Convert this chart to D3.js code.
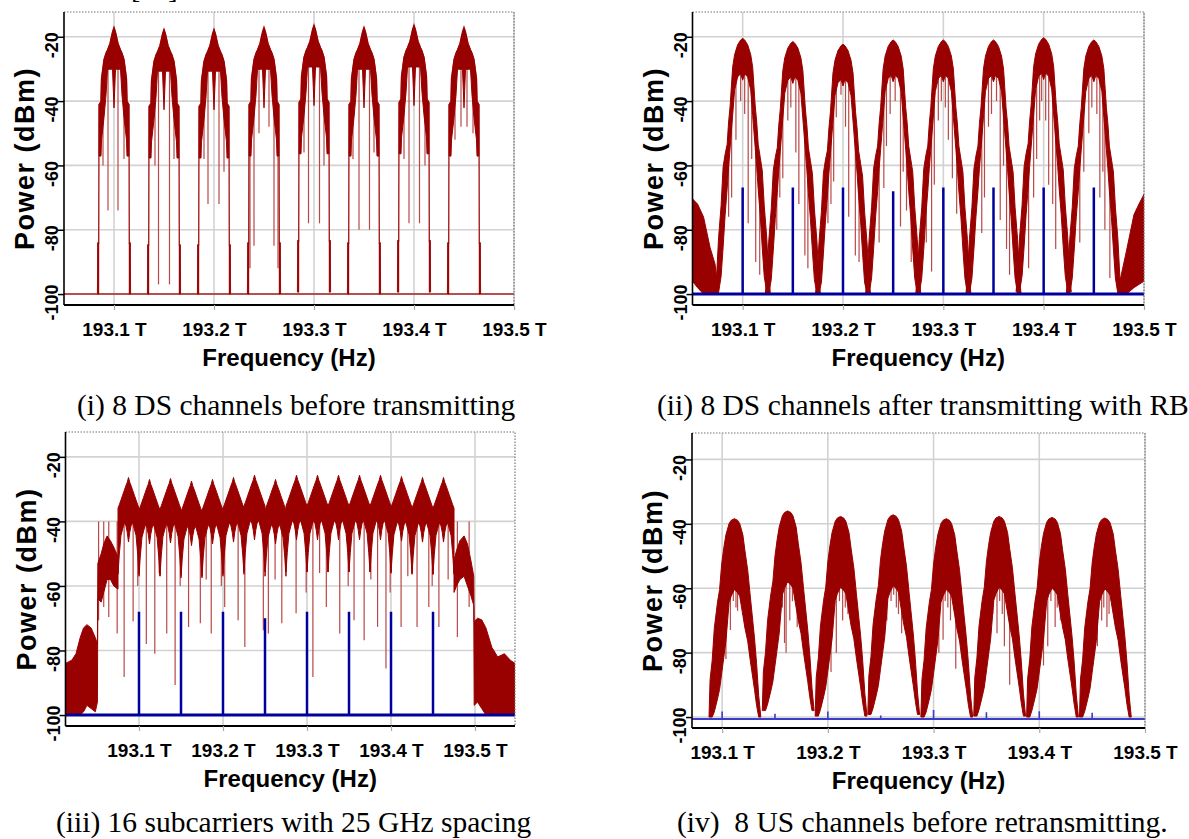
<!DOCTYPE html>
<html>
<head>
<meta charset="utf-8">
<script src="https://cdn.jsdelivr.net/npm/d3@7"></script>
<style>
  html, body { margin: 0; padding: 0; background: #fff; }
  svg { display: block; }
</style>
</head>
<body>
<svg id="fig" width="1189" height="839"></svg>
<script>
// ---------- values ----------
const xTicks = [193.1, 193.2, 193.3, 193.4, 193.5];
const xTickLabels = ["193.1 T", "193.2 T", "193.3 T", "193.4 T", "193.5 T"];
const yTicks = [-20, -40, -60, -80, -100];
const yTickLabels = ["-20", "-40", "-60", "-80", "-100"];

const captions = [
  "(i) 8 DS channels before transmitting",
  "(ii) 8 DS channels after transmitting with RB",
  "(iii) 16 subcarriers with 25 GHz spacing",
  "(iv)  8 US channels before retransmitting."
];

// DS channel grid (THz), also where the blue carriers sit
const dsCenters = [193.10, 193.15, 193.20, 193.25, 193.30, 193.35, 193.40, 193.45];

// (i) before transmitting: peaks (dBm)
const dsPeaksBefore = [-17.1, -17.7, -17.7, -17.1, -16.4, -17.1, -16.4, -17.1];
// shape: [offset GHz, top dB rel. peak, bottom of solid part dB rel. peak (null = thin edge)]
const dsShapeBefore = [
  [-16.4, -83, null], [-16.1, -67, -83], [-15.3, -67, -83], [-15.1, -40, null],
  [-14.9, -24, -40], [-13.0, -23, -40], [-12.5, -16, -35], [-10.0, -10, -28],
  [-8.0, -8, -21], [-6.5, -7, -13], [-4.0, -5, -13], [-1.5, -1.5, -13],
  [0, 0, -25],
  [1.5, -1.5, -13], [4.0, -5, -13], [6.5, -7, -13], [8.0, -8, -21],
  [10.0, -10, -28], [12.5, -16, -35], [13.0, -23, -40], [14.9, -24, -40],
  [15.1, -40, null], [15.3, -67, -83], [16.1, -67, -83], [16.4, -83, null]
];
// thin dips: [channel, offset GHz, depth dBm]
const dsDipsBefore = [
  [0, -6, -74], [0, 4, -74], [0, -11, -60], [0, 10, -58],
  [1, -5.5, -97], [1, 5.5, -97], [1, -9, -60], [1, 10, -58],
  [2, -6, -72], [2, 5, -72], [2, -10, -58], [2, 10, -62],
  [3, -14, -92], [3, 14, -92], [3, -10, -85], [3, 10, -85], [3, -5, -50], [3, 5, -48],
  [4, -5.5, -78], [4, 5.5, -78], [4, -10, -56], [4, 10, -60],
  [5, -5, -80], [5, 5.5, -80], [5, -11, -58], [5, 10, -56],
  [6, -5, -78], [6, 5.5, -78], [6, -10, -58], [6, 11, -60],
  [7, -3, -48], [7, 3, -48], [7, -9, -52], [7, 9, -50]
];

// (ii) after transmitting with RB
const dsPeaksAfter = [-20.5, -21.5, -22.3, -21, -21, -21, -20.3, -21];
const dsShapeAfter = [
  [-27.5, -79, -79], [-26, -74, -79], [-24, -62, -79], [-21.5, -52, -74],
  [-19.5, -40, -65], [-17.5, -36, -55], [-15.5, -33, -47], [-14, -26, -40],
  [-12.5, -21, -34], [-10, -9, -24], [-8, -5, -16], [-5, -2, -12], [-2, -0.5, -11],
  [0, 0, -13],
  [2, -0.5, -11], [5, -2, -12], [8, -5, -16], [10, -9, -24], [12.5, -21, -34],
  [14, -26, -40], [15.5, -33, -47], [17.5, -37, -55], [19.5, -41, -65],
  [21.5, -52, -74], [24, -62, -79], [26, -74, -79], [27.5, -79, -79]
];
const dsDipsAfter = [
  [0, -11, -70], [0, -6.7, -52], [0, 5.5, -78], [0, 9, -58], [0, 13, -90],
  [0, -2, -40], [0, 2, -44], [0, -14, -76], [0, 17, -94],
  [1, -10, -64], [1, -5, -46], [1, 6, -72], [1, 12, -88], [1, -16, -80],
  [1, -2, -42], [1, 3, -56], [1, 15, -92], [1, -13, -70],
  [2, -9.3, -65], [2, -6.7, -45], [2, 5.7, -76], [2, 12.3, -88], [2, -15, -78],
  [2, -2, -38], [2, 2.5, -48], [2, 16, -90], [2, -12, -72],
  [3, -9.3, -67], [3, -6.7, -54], [3, 7.3, -79], [3, 13.3, -74], [3, 18, -90],
  [3, -3, -44], [3, 2, -40], [3, -14, -84], [3, 10, -62],
  [4, -11.7, -93], [4, -5, -46], [4, 5, -52], [4, 13.3, -75], [4, -17, -84],
  [4, -2, -40], [4, 2, -42], [4, 9, -64], [4, -9, -66],
  [5, -11.7, -81], [5, -5, -48], [5, 6.7, -77], [5, 10, -60], [5, 16, -94],
  [5, -2, -44], [5, 3, -40], [5, -9, -70], [5, 13, -86],
  [6, -10, -70], [6, -4, -46], [6, 5, -66], [6, 12, -86], [6, -15, -92],
  [6, -2, -40], [6, 2, -46], [6, -7, -58], [6, 9, -72],
  [7, -10, -62], [7, -5, -50], [7, 6, -70], [7, 11, -80], [7, 16, -95],
  [7, -2, -42], [7, 3, -44], [7, -14, -84], [7, 9, -62]
];
// neighbour tails cut by the plot edges: [THz, top, bottom]
const rbTailLeft = [[193.05, -70.4, -96], [193.055, -72, -98], [193.061, -76, -100],
  [193.0675, -85.5, -100], [193.0725, -90.7, -100], [193.0758, -100, -100]];
const rbTailRight = [[193.474, -100, -100], [193.476, -96, -100], [193.4825, -86.6, -100],
  [193.49, -75.3, -98], [193.495, -72, -97], [193.5, -69, -96]];
const carrierLevelsAfter = [-66.9, -66.9, -66.9, -68, -66.9, -66.9, -66.9, -66.9];

// (iii) 16 subcarriers, 25 GHz spacing
const subCenters = [193.0875, 193.1125, 193.1375, 193.1625, 193.1875, 193.2125, 193.2375, 193.2625,
  193.2875, 193.3125, 193.3375, 193.3625, 193.3875, 193.4125, 193.4375, 193.4625];
const subPeaks = [-26.4, -27, -26.7, -27.5, -27, -26.4, -25.7, -27,
  -25.7, -25.7, -25.7, -25.7, -25.7, -26.1, -26.4, -26.4];
const subShape = [
  [-12.5, -9.5, -30], [-11, -8.5, -24], [-9, -7, -18], [-7, -5.5, -16], [-5, -4, -14],
  [-3, -2.5, -15], [-1.5, -1.5, -17], [0, 0, -20], [1.5, -1.5, -17], [3, -2.5, -15],
  [5, -4, -14], [7, -5.5, -16], [9, -7, -18], [11, -8.5, -24], [12.5, -9.5, -30]
];
const subEdgeLeft = [
  [193.0125, -84, -100], [193.02, -83, -100], [193.025, -81, -100], [193.03, -76, -100],
  [193.034, -73, -99], [193.038, -72, -97], [193.043, -73, -98], [193.048, -76, -99],
  [193.0505, -78, -96], [193.051, -53, -64], [193.055, -50, -65], [193.058, -47, -62],
  [193.062, -44.5, -58], [193.066, -46, -58], [193.07, -48, -60], [193.075, -51, -61]
];
const subEdgeRight = [
  [193.475, -52, -62], [193.478, -49, -60], [193.482, -46, -58], [193.487, -44.5, -57],
  [193.491, -47, -60], [193.495, -52, -63], [193.4985, -57, -66], [193.499, -71, -97],
  [193.503, -70, -96], [193.508, -70.5, -98], [193.513, -73, -100], [193.52, -79, -100],
  [193.527, -82, -100], [193.535, -81, -100], [193.542, -83, -100], [193.5476, -84, -100]
];
// [THz, depth, start] (start defaults to -40 dBm)
const subDips = [
  [193.018, -92, -86], [193.026, -96, -84], [193.037, -88, -75], [193.045, -90, -76],
  [193.0519, -70.6], [193.058, -66.5], [193.064, -69.6], [193.074, -74.7], [193.0823, -88.2],
  [193.093, -71], [193.0985, -60], [193.1087, -78], [193.1188, -81], [193.124, -56],
  [193.133, -74.7], [193.143, -90.7], [193.149, -60], [193.159, -72.7], [193.173, -71.6],
  [193.18, -58], [193.186, -74.7], [193.198, -60], [193.202, -66.5], [193.218, -70.6],
  [193.226, -78.9], [193.248, -73.7], [193.254, -74.7], [193.262, -58], [193.27, -71.6],
  [193.287, -68.5], [193.299, -62], [193.307, -88.2], [193.315, -56], [193.323, -66.5],
  [193.339, -74.7], [193.349, -60], [193.356, -70.6], [193.368, -76.8], [193.376, -58],
  [193.384, -72.7], [193.394, -85.6], [193.399, -62], [193.412, -72.7], [193.42, -57],
  [193.431, -72.7], [193.445, -66.5], [193.449, -60], [193.457, -72.7], [193.468, -58],
  [193.479, -75.8], [193.493, -66.5], [193.505, -90, -72], [193.512, -95, -74], [193.53, -96, -82]
];
const carrierLevelsSub = [-68, -68, -68, -70, -68, -68, -68, -68];

// (iv) 8 US channels before retransmitting
const usCenters = [193.1116, 193.162, 193.212, 193.2618, 193.312, 193.362, 193.412, 193.462];
const usPeaks = [-38.4, -36, -37.7, -37.2, -38.4, -37.7, -38, -38.2];
const usShape = [
  [-24, -62, -62], [-23, -50, -62], [-21, -44, -62], [-19, -34, -60], [-16, -26, -56],
  [-14, -22, -53], [-12, -14, -48], [-10, -9, -43], [-8, -5, -38], [-5, -1.5, -26],
  [-3, -0.5, -24], [0, 0, -22], [3, -0.5, -23], [5, -1.5, -24], [8, -5, -30],
  [10, -10, -34], [12.6, -16, -38], [15, -24, -44], [19, -37, -53], [21, -45, -58],
  [23, -55, -62], [25, -62, -62]
];
const usDips = [
  [0, -3.8, -73], [0, 3, -67], [0, 6, -63], [0, -8, -82], [0, -1, -64], [0, 1.5, -66],
  [1, -3, -77], [1, -1.5, -80], [1, 2, -70], [1, 9, -72], [1, 4.5, -64], [1, -5, -66],
  [2, -4, -80], [2, 2, -70], [2, 7, -68], [2, -9, -86], [2, -1, -64], [2, 4.5, -66],
  [3, -2, -64], [3, 3, -66], [3, 8, -74], [3, -6, -70], [3, 0.5, -62], [3, 5, -68],
  [4, -3, -76], [4, 4, -70], [4, -7, -80], [4, 9, -85], [4, -1, -64], [4, 1.5, -66],
  [5, -2, -74], [5, 5, -78], [5, -6, -68], [5, 10, -90], [5, 0.5, -64], [5, 3, -68],
  [6, -4, -78], [6, 3, -72], [6, 8, -70], [6, -8, -84], [6, -1, -64], [6, 5, -66],
  [7, -3, -70], [7, 2, -72], [7, 6, -64], [7, -7, -78], [7, -1, -66], [7, 4, -68]
];
const usMarkLevels = [-98.3, -99, -98.3, -99.5, -97.8, -98.5, -98.2, -98.7];

// ---------- drawing ----------
const RED = "#990000", DIP = "#b94848", BLUE = "#00009c", BLUE_LIGHT = "#3b3bcc";
const SANS = "'Liberation Sans', Arial, sans-serif";
const SERIF = "'Liberation Serif', 'Times New Roman', serif";

const svg = d3.select("#fig");
const defs = svg.append("defs");

function makePanel(id, box, domain, yTop) {
  const x = d3.scaleLinear().domain(domain).range([box.x0, box.x1]);
  const y = d3.scaleLinear().domain([-103.4, yTop]).range([box.y1, box.y0]);
  defs.append("clipPath").attr("id", id).append("rect")
    .attr("x", box.x0).attr("y", box.y0)
    .attr("width", box.x1 - box.x0).attr("height", box.y1 - box.y0);

  const root = svg.append("g");
  const grid = root.append("g").attr("stroke", "#d2d2d2").attr("stroke-width", 1.6);
  grid.selectAll(null).data(xTicks).join("line")
    .attr("x1", d => x(d)).attr("x2", d => x(d))
    .attr("y1", box.y0).attr("y2", box.y1);
  grid.selectAll(null).data(yTicks).join("line")
    .attr("x1", box.x0).attr("x2", box.x1)
    .attr("y1", d => y(d)).attr("y2", d => y(d));

  const plot = root.append("g").attr("clip-path", `url(#${id})`);
  return {x, y, box, root, plot};
}

function finishPanel(p, caption, capX, capY) {
  const {box, root} = p;
  // dotted frame top / right
  root.append("path")
    .attr("d", `M${box.x0},${box.y0}H${box.x1}V${box.y1}`)
    .attr("fill", "none").attr("stroke", "#777").attr("stroke-width", 1.2)
    .attr("stroke-dasharray", "1.5,1.5");

  const left = root.append("g").attr("transform", `translate(${box.x0},0)`)
    .call(d3.axisLeft(p.y).tickValues(yTicks).tickSize(6).tickSizeOuter(0)
      .tickFormat((d, i) => yTickLabels[i]));
  left.select(".domain").attr("stroke", "#000").attr("stroke-width", 1.6)
    .attr("d", `M0,${box.y0}V${box.y1}`);
  left.selectAll(".tick line").attr("stroke", "#000").attr("stroke-width", 1.5);
  left.selectAll(".tick text")
    .attr("x", null).attr("dy", null)
    .attr("transform", "translate(-6,8) rotate(-90)")
    .attr("text-anchor", "middle")
    .attr("font-family", SANS).attr("font-weight", "bold").attr("font-size", 18)
    .attr("fill", "#000");

  const bottom = root.append("g").attr("transform", `translate(0,${box.y1})`)
    .call(d3.axisBottom(p.x).tickValues(xTicks).tickSize(5).tickSizeOuter(0)
      .tickFormat((d, i) => xTickLabels[i]));
  bottom.select(".domain").attr("stroke", "#000").attr("stroke-width", 2)
    .attr("d", `M${box.x0},0H${box.x1}`);
  bottom.selectAll(".tick line").attr("stroke", "#aaa").attr("stroke-width", 1.2);
  bottom.selectAll(".tick text")
    .attr("y", 31).attr("dy", null)
    .attr("font-family", SANS).attr("font-weight", "bold").attr("font-size", 19)
    .attr("fill", "#000");

  const cy = (box.y0 + box.y1) / 2;
  root.append("text")
    .attr("transform", `translate(${box.x0 - 30},${cy}) rotate(-90)`)
    .attr("text-anchor", "middle")
    .attr("font-family", SANS).attr("font-weight", "bold").attr("font-size", 27)
    .attr("letter-spacing", 1.5)
    .text("Power (dBm)");

  root.append("text")
    .attr("x", (box.x0 + box.x1) / 2).attr("y", box.y1 + 61)
    .attr("text-anchor", "middle")
    .attr("font-family", SANS).attr("font-weight", "bold").attr("font-size", 24)
    .text("Frequency (Hz)");

  root.append("text")
    .attr("x", capX).attr("y", capY)
    .attr("font-family", SERIF).attr("font-size", 29.5)
    .style("white-space", "pre")
    .text(caption);
}

function channelPoints(fc, pk, shape) {
  return shape.map(([o, t, b]) => ({
    f: fc + o / 1000,
    top: Math.max(pk + t, -100),
    bot: b === null ? null : Math.max(pk + b, -100)
  }));
}

function drawBand(p, pts, strokeW) {
  const area = d3.area()
    .defined(d => d.bot !== null)
    .x(d => p.x(d.f)).y0(d => p.y(d.bot)).y1(d => p.y(d.top));
  p.plot.append("path").datum(pts).attr("d", area)
    .attr("fill", RED).attr("stroke", RED).attr("stroke-width", strokeW)
    .attr("stroke-linejoin", "round");
}

function drawDips(p, list) {
  p.plot.append("g").attr("stroke", DIP).attr("stroke-width", 1.2)
    .selectAll("line").data(list).join("line")
    .attr("x1", d => p.x(d.f)).attr("x2", d => p.x(d.f))
    .attr("y1", d => p.y(d.from)).attr("y2", d => p.y(d.to));
}

function channelDips(centers, peaks, shape, dips) {
  const topAt = d3.scaleLinear().domain(shape.map(s => s[0])).range(shape.map(s => s[1]));
  return dips.map(([c, o, depth]) => ({f: centers[c] + o / 1000, from: peaks[c] + topAt(o) - 2, to: depth}));
}

function drawCarriers(p, levels, color, width, base, baseW) {
  p.plot.append("line")
    .attr("x1", p.box.x0).attr("x2", p.box.x1)
    .attr("y1", p.y(base)).attr("y2", p.y(base))
    .attr("stroke", color).attr("stroke-width", baseW);
  p.plot.append("g").attr("stroke", color).attr("stroke-width", width)
    .selectAll("line").data(dsCenters).join("line")
    .attr("x1", d => p.x(d)).attr("x2", d => p.x(d))
    .attr("y1", p.y(base)).attr("y2", (d, i) => p.y(levels[i]));
}

// ----- (i) -----
const pA = makePanel("clipA", {x0: 64, x1: 514, y0: 12, y1: 305}, [193.05, 193.5], -12.3);
pA.plot.append("line")
  .attr("x1", pA.box.x0).attr("x2", pA.box.x1)
  .attr("y1", pA.y(-100)).attr("y2", pA.y(-100))
  .attr("stroke", "#a82020").attr("stroke-width", 1.5);
drawDips(pA, channelDips(dsCenters, dsPeaksBefore, dsShapeBefore, dsDipsBefore));
dsCenters.forEach((fc, i) => {
  const pts = channelPoints(fc, dsPeaksBefore[i], dsShapeBefore);
  pA.plot.append("path").datum(pts)
    .attr("d", d3.line().x(d => pA.x(d.f)).y(d => pA.y(d.top)))
    .attr("fill", "none").attr("stroke", "#a82020").attr("stroke-width", 1.4);
  drawBand(pA, pts, 1);
});
finishPanel(pA, captions[0], 77, 415);

// ----- (ii) -----
const pB = makePanel("clipB", {x0: 692.5, x1: 1144, y0: 12, y1: 305}, [193.05, 193.5], -12.3);
drawDips(pB, channelDips(dsCenters, dsPeaksAfter, dsShapeAfter, dsDipsAfter));
dsCenters.forEach((fc, i) => drawBand(pB, channelPoints(fc, dsPeaksAfter[i], dsShapeAfter), 1));
[rbTailLeft, rbTailRight].forEach(t =>
  drawBand(pB, t.map(([f, top, bot]) => ({f, top, bot})), 1));
drawCarriers(pB, carrierLevelsAfter, BLUE, 2.5, -100, 3);
finishPanel(pB, captions[1], 657, 415);

// ----- (iii) -----
const pC = makePanel("clipC", {x0: 65.5, x1: 515, y0: 432, y1: 726}, [193.0125, 193.5476], -12.3);
drawDips(pC, subDips.map(([f, to, from]) => ({f, to, from: from === undefined ? -40 : from})));
subCenters.forEach((fc, i) => drawBand(pC, channelPoints(fc, subPeaks[i], subShape), 1));
[subEdgeLeft, subEdgeRight].forEach(t =>
  drawBand(pC, t.map(([f, top, bot]) => ({f, top, bot})), 1));
drawCarriers(pC, carrierLevelsSub, BLUE, 2.5, -100, 3);
finishPanel(pC, captions[2], 56, 832);

// ----- (iv) -----
const pD = makePanel("clipD", {x0: 692, x1: 1145, y0: 433, y1: 728}, [193.0715, 193.5], -11.8);
drawDips(pD, channelDips(usCenters, usPeaks, usShape, usDips));
usCenters.forEach((fc, i) => drawBand(pD, channelPoints(fc, usPeaks[i], usShape), 1));
drawCarriers(pD, usMarkLevels, BLUE_LIGHT, 1.6, -100.6, 2);
finishPanel(pD, captions[3], 677, 832);

// clipped reference mark from the text above the figure
svg.append("text")
  .attr("x", 131).attr("y", -2)
  .attr("font-family", SERIF).attr("font-size", 28)
  .text("[16]");
</script>
</body>
</html>
